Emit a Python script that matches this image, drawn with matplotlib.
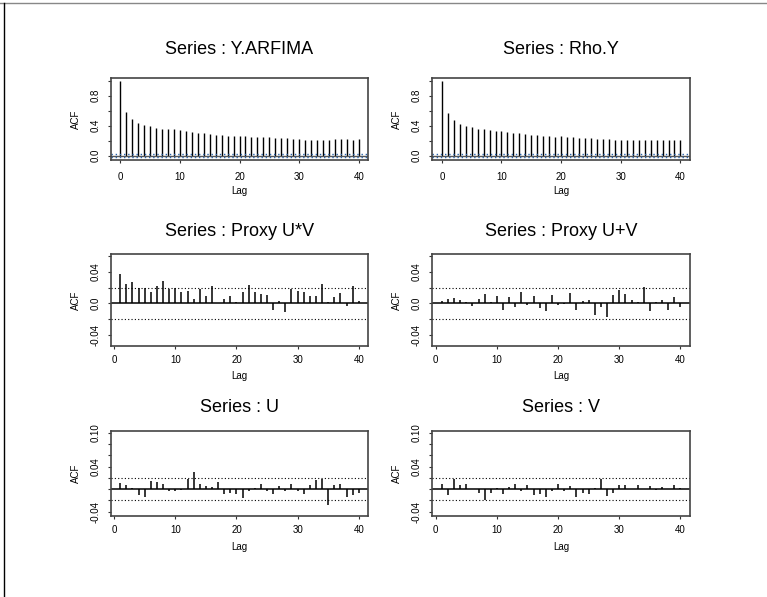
import matplotlib
matplotlib.use("Agg")
import matplotlib.pyplot as plt
import numpy as np

plt.rcParams['font.family'] = ['Liberation Sans', 'DejaVu Sans']

# ACF values
lags_full = np.arange(0, 41)
lags = np.arange(1, 41)

acf_y_arfima = [1.0, 0.587, 0.489, 0.44, 0.41, 0.39, 0.373, 0.36, 0.351, 0.35, 0.338,
                0.329, 0.316, 0.307, 0.302, 0.289, 0.276, 0.271, 0.267, 0.262, 0.262,
                0.258, 0.253, 0.249, 0.249, 0.249, 0.24, 0.236, 0.236, 0.222, 0.218,
                0.213, 0.209, 0.213, 0.209, 0.213, 0.218, 0.222, 0.218, 0.213, 0.222]
acf_rho_y = [1.0, 0.573, 0.476, 0.427, 0.396, 0.378, 0.36, 0.351, 0.342, 0.333, 0.324,
             0.316, 0.307, 0.298, 0.289, 0.28, 0.271, 0.267, 0.258, 0.253, 0.258,
             0.249, 0.244, 0.236, 0.231, 0.231, 0.227, 0.227, 0.218, 0.209, 0.204,
             0.204, 0.204, 0.209, 0.209, 0.209, 0.209, 0.209, 0.204, 0.204, 0.204]
acf_proxy_uv_mult = [0.037, 0.025, 0.027, 0.020, 0.020, 0.015, 0.022, 0.028, 0.018, 0.019,
                     0.015, 0.016, 0.006, 0.018, 0.009, 0.022, 0.001, 0.0055, 0.009, 0.002,
                     0.015, 0.023, 0.015, 0.012, 0.0105, -0.009, 0.003, -0.0105, 0.018, 0.016,
                     0.015, 0.009, 0.0097, 0.025, 0.0013, 0.008, 0.0126, -0.003, 0.022, 0.003]
acf_proxy_uv_plus = [0.0034, 0.0055, 0.007, 0.0046, 0.0013, -0.0034, 0.0055, 0.0118, 0.002, 0.0093,
                     -0.0084, 0.0084, -0.005, 0.0139, -0.002, 0.0093, -0.0063, -0.0093, 0.0105, -0.002,
                     -0.0013, 0.0135, -0.0084, 0.003, 0.0042, -0.0147, -0.0042, -0.0173, 0.0105, 0.0164,
                     0.0122, 0.0038, 0.002, 0.0206, -0.0097, 0.0013, 0.0042, -0.008, 0.008, -0.0046]
acf_u = [0.0113, 0.0072, 0.003, -0.010, -0.0137, 0.0149, 0.0125, 0.0101, -0.0024, -0.003,
         -0.0012, 0.019, 0.031, 0.0084, 0.006, 0.0036, 0.0125, -0.0078, -0.0066, -0.0078,
         -0.0155, -0.0024, 0.0018, 0.0096, -0.0036, -0.0078, 0.0048, -0.003, 0.0101, -0.0024,
         -0.0084, 0.0066, 0.0161, 0.019, -0.0275, 0.0078, 0.0084, -0.0137, -0.0107, -0.0072]
acf_v = [0.009, -0.0096, 0.0179, 0.0078, 0.009, 0.0012, -0.006, -0.0185, -0.0072, 0.0018,
         -0.0078, 0.0036, 0.0084, -0.003, 0.0066, -0.0096, -0.0078, -0.0131, -0.003, 0.0084,
         -0.0024, 0.0054, -0.0131, -0.0072, -0.009, 0.0024, 0.0185, -0.0113, -0.0066, 0.0078,
         0.0072, 0.0012, 0.0066, 0.0006, 0.0054, -0.0018, 0.0042, 0.0012, 0.0072, 0.003]
conf = 0.0196

titles = ["Series : Y.ARFIMA", "Series : Rho.Y", "Series : Proxy U*V",
          "Series : Proxy U+V", "Series : U", "Series : V"]
xticks = [0, 10, 20, 30, 40]

W, H = 767, 597
fig = plt.figure(figsize=(W / 100, H / 100), dpi=100)

# frame of the page
fig.add_artist(plt.Line2D([0, 1], [1 - 3 / H, 1 - 3 / H], color="#888888", lw=1))
fig.add_artist(plt.Line2D([4 / W, 4 / W], [0, 1 - 3 / H], color="black", lw=1))

cols = [(110.7, 368.3), (432.3, 690.0)]
rows = [
    dict(y=(77.7, 160.2), ylim=(-0.060, 1.041), yt=np.arange(0, 1.01, 0.2),
         lab={0.0: "0.0", 0.4: "0.4", 0.8: "0.8"}, xlim=(-1.6, 41.6),
         tgap=28, lgap=31, xpad=6),
    dict(y=(254, 346), ylim=(-0.0544, 0.0628), yt=np.arange(-0.04, 0.061, 0.02),
         lab={-0.04: "-0.04", 0.0: "0.0", 0.04: "0.04"}, xlim=(-0.56, 41.56),
         tgap=23, lgap=30, xpad=4),
    dict(y=(431, 515.5), ylim=(-0.0468, 0.1035), yt=np.arange(-0.04, 0.101, 0.02),
         lab={-0.04: "-0.04", 0.04: "0.04", 0.1: "0.10"}, xlim=(-0.56, 41.56),
         tgap=23, lgap=32, xpad=4),
]
series = [[acf_y_arfima, acf_rho_y], [acf_proxy_uv_mult, acf_proxy_uv_plus], [acf_u, acf_v]]

k = 0
for r, row in enumerate(rows):
    for c, (x0, x1) in enumerate(cols):
        y0, y1 = row["y"]
        ax = fig.add_axes([x0 / W, 1 - y1 / H, (x1 - x0) / W, (y1 - y0) / H])
        vals = series[r][c]
        if r == 0:
            ax.vlines(lags_full, 0, vals, color="black", lw=1)
            ax.axhline(0, color="#555555", lw=1)
            for s in (conf, -conf):
                ax.axhline(s, color="#2a62a8", lw=1, ls=(0, (1, 2)))
        else:
            ax.vlines(lags, 0, vals, color="black", lw=1.1)
            ax.axhline(0, color="black", lw=1.1)
            for s in (conf, -conf):
                ax.axhline(s, color="black", lw=0.8, ls=(0, (1, 2)))
        ax.set_xlim(*row["xlim"])
        ax.set_ylim(*row["ylim"])
        ax.set_xticks(xticks)
        ax.set_xticklabels([str(t) for t in xticks], fontsize=7)
        ylabs = []
        for t in row["yt"]:
            key = [kk for kk in row["lab"] if abs(kk - t) < 1e-9]
            ylabs.append(row["lab"][key[0]] if key else "")
        ax.set_yticks(row["yt"])
        ax.set_yticklabels(ylabs, fontsize=7, rotation=90, va="center")
        ax.tick_params(axis="both", length=2.5, width=0.8, color="#333333", direction="out")
        ax.tick_params(axis="x", pad=row["xpad"])
        ax.tick_params(axis="y", pad=5)
        for sp in ax.spines.values():
            sp.set_color("#444444")
            sp.set_linewidth(1.2)
        ax.annotate(titles[k], xy=(0.5, 1), xycoords="axes fraction",
                    xytext=(0, row["tgap"] * 0.72), textcoords="offset points",
                    ha="center", va="center", fontsize=13)
        ax.annotate("ACF", xy=(0, 0.5), xycoords="axes fraction",
                    xytext=(-35 * 0.72, 0), textcoords="offset points",
                    ha="center", va="center", rotation=90, fontsize=7)
        ax.annotate("Lag", xy=(0.5, 0), xycoords="axes fraction",
                    xytext=(0, -row["lgap"] * 0.72), textcoords="offset points",
                    ha="center", va="center", fontsize=7)
        k += 1

fig.savefig("out.png", dpi=100)
